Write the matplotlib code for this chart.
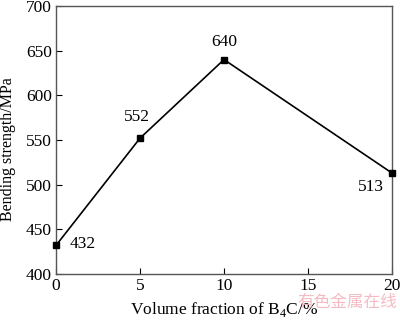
import matplotlib
matplotlib.use('Agg')
import matplotlib.pyplot as plt

plt.rcParams['font.family'] = ['Liberation Serif', 'DejaVu Serif']
plt.rcParams['mathtext.fontset'] = 'custom'
plt.rcParams['mathtext.rm'] = 'Liberation Serif'

# 体积分数と曲げ強度
volume = [0, 5, 10, 20]
strength = [432, 552, 640, 513]
labels = ['432', '552', '640', '513']
offsets = [(19, 1), (-2, 15), (0, 13), (-15, -10)]

fig = plt.figure(figsize=(4.0, 3.21), dpi=100)
ax = fig.add_axes([0.14, 0.1464, 0.84, 0.835])

ax.plot(volume, strength, 'k-', lw=1.2, marker='s', ms=4.5, clip_on=False, zorder=3)
for x, y, t, (dx, dy) in zip(volume, strength, labels, offsets):
    ax.annotate(t, (x, y), xytext=(dx, dy), textcoords='offset points',
                ha='center', va='center', fontsize=12.5)

ax.set_xlim(0, 20)
ax.set_ylim(400, 700)
ax.set_xticks([0, 5, 10, 15, 20])
ax.set_yticks([400, 450, 500, 550, 600, 650, 700])
ax.tick_params(direction='in', labelsize=12.5, length=4, width=0.8, colors='k', pad=3)
for s in ax.spines.values():
    s.set_color('#555555')
    s.set_linewidth(1.0)
ax.set_xlabel('Volume fraction of B$_4$C/%', fontsize=12.5, labelpad=4)
ax.set_ylabel('Bending strength/MPa', fontsize=11.5)
ax.yaxis.set_label_coords(-0.12, 0.465)

fig.text(0.993, 0.03, '有色金属在线', color='#f4b0b8', fontsize=12, ha='right', va='bottom',
         family=['Noto Sans CJK SC'], alpha=0.85, zorder=0)

fig.savefig('out.png', dpi=100)
